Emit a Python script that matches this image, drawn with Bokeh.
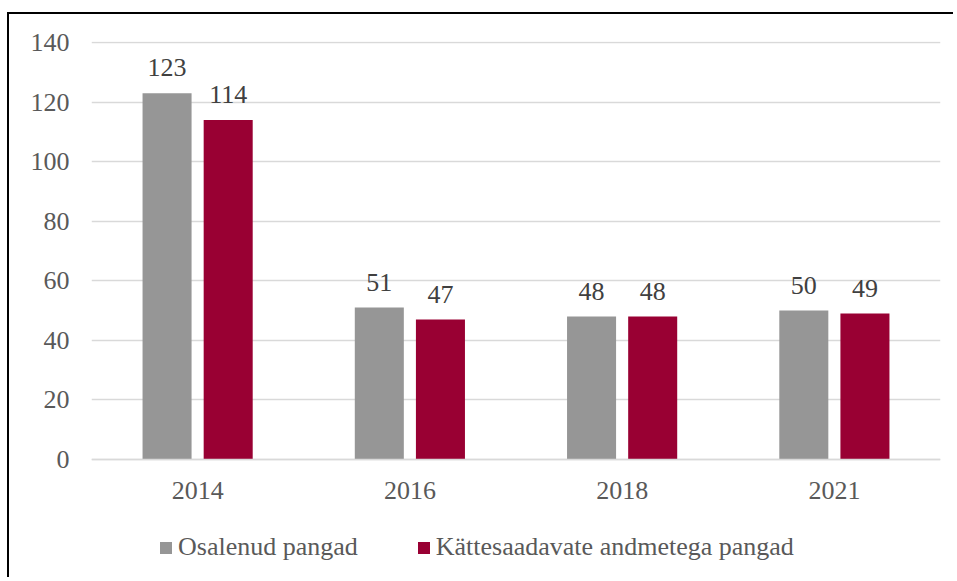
from bokeh.plotting import figure
from bokeh.models import ColumnDataSource, FactorRange, Range1d, FixedTicker, Legend, LegendItem
from bokeh.transform import dodge
from bokeh.core.properties import value
from bokeh.embed import file_html
from bokeh.resources import INLINE

years = ["2014", "2016", "2018", "2021"]
osalenud = [123, 51, 48, 50]
kattesaadavad = [114, 47, 48, 49]
y_ticks = [0, 20, 40, 60, 80, 100, 120, 140]
series_names = ["Osalenud pangad", "Kättesaadavate andmetega pangad"]

FONT = "Liberation Serif"
TXT = "#595959"
GRAY = "#969696"
RED = "#990033"

src = ColumnDataSource(dict(
    year=years,
    a=osalenud,
    b=kattesaadavad,
    a_lbl=[str(v) for v in osalenud],
    b_lbl=[str(v) for v in kattesaadavad],
))

# frame extends below zero so the legend can live inside it
p = figure(
    x_range=FactorRange(factors=years, range_padding=0),
    y_range=Range1d(-39.616, 140.336),
    width=946, height=565,
    output_backend="svg", toolbar_location=None,
    min_border_left=82, min_border_right=15,
    min_border_top=27, min_border_bottom=2,
)
p.styles = {"border-top": "2px solid black", "border-left": "2px solid black",
            "margin-top": "12px", "margin-left": "7px"}
p.outline_line_color = None

r1 = p.vbar(x=dodge("year", -0.144, range=p.x_range), top="a", width=0.231,
            source=src, fill_color=GRAY, line_color=None)
r2 = p.vbar(x=dodge("year", 0.144, range=p.x_range), top="b", width=0.231,
            source=src, fill_color=RED, line_color=None)

p.text(x=dodge("year", -0.144, range=p.x_range), y="a", text="a_lbl", source=src,
       text_font=value(FONT), text_font_size="26px", text_color="#404040",
       text_align="center", text_baseline="bottom", y_offset=-17)
p.text(x=dodge("year", 0.144, range=p.x_range), y="b", text="b_lbl", source=src,
       text_font=value(FONT), text_font_size="26px", text_color="#404040",
       text_align="center", text_baseline="bottom", y_offset=-17)

p.xgrid.grid_line_color = None
p.ygrid.grid_line_color = "#d9d9d9"
p.ygrid.grid_line_width = 1.5
p.yaxis.ticker = FixedTicker(ticks=y_ticks)

p.yaxis.axis_line_color = None
p.yaxis.major_tick_line_color = None
p.yaxis.minor_tick_line_color = None
p.yaxis.major_tick_out = 0
p.yaxis.major_label_standoff = 22
p.yaxis.major_label_text_font = FONT
p.yaxis.major_label_text_font_size = "26px"
p.yaxis.major_label_text_color = TXT

p.xaxis.fixed_location = 0
p.xaxis.axis_line_color = "#d9d9d9"
p.xaxis.axis_line_width = 1.5
p.xaxis.major_tick_line_color = None
p.xaxis.major_tick_out = 0
p.xaxis.major_label_standoff = 22
p.xaxis.major_label_text_font = FONT
p.xaxis.major_label_text_font_size = "26px"
p.xaxis.major_label_text_color = TXT

legend = Legend(
    items=[LegendItem(label=series_names[0], renderers=[r1]),
           LegendItem(label=series_names[1], renderers=[r2])],
    orientation="horizontal", location=(67, 15),
    label_text_font=FONT, label_text_font_size="26px", label_text_color=TXT,
    glyph_width=15, glyph_height=15, label_standoff=5, spacing=58,
    border_line_color=None, background_fill_alpha=0, padding=0, margin=0,
)
p.add_layout(legend, "center")

open("out.html", "w").write(file_html(p, INLINE))
